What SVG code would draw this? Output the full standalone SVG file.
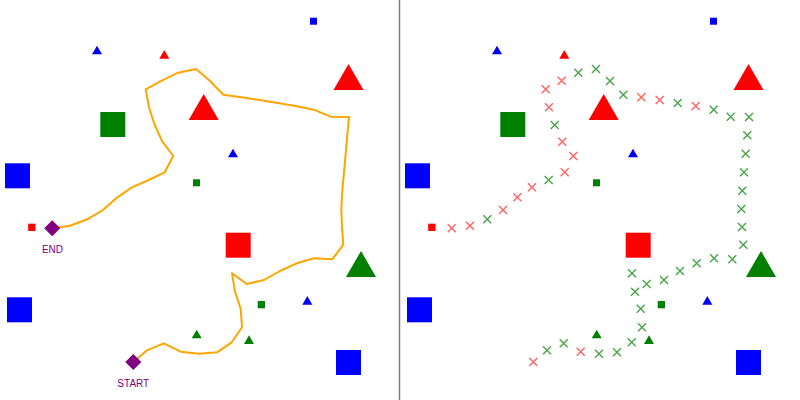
<svg xmlns="http://www.w3.org/2000/svg" xmlns:xlink="http://www.w3.org/1999/xlink" width="800" height="400" viewBox="0 0 800 400">
<style>
.b{fill:#0000ff}.r{fill:#ff0000}.g{fill:#008000}
.route{fill:none;stroke:#ffa500;stroke-width:2;stroke-linejoin:round}
.lbl{font-family:"Liberation Sans",Arial,sans-serif;font-size:10px;fill:#800080;text-anchor:middle}
.dia{fill:#800080}
.xr{stroke:#ff3333;stroke-width:1.5;stroke-opacity:0.75;fill:none}
.xg{stroke:#118811;stroke-width:1.5;stroke-opacity:0.75;fill:none}
</style>
<defs>
<path id="x" d="M-4,-4L4,4M4,-4L-4,4"/>
<g id="field">
<rect class="b" x="310" y="17.7" width="7" height="7"/>
<polygon class="b" points="97,45.7 102,54.3 92,54.3"/>
<polygon class="r" points="164.3,50 169.3,58.7 159.3,58.7"/>
<polygon class="r" points="348.5,64 363.5,90 333.5,90"/>
<rect class="g" x="100.3" y="112" width="25" height="25"/>
<polygon class="r" points="203.7,94 218.7,120 188.7,120"/>
<polygon class="b" points="233,148.7 238,157.3 228,157.3"/>
<rect class="b" x="5" y="163.3" width="25" height="25"/>
<rect class="g" x="193" y="179.3" width="7" height="7"/>
<rect class="r" x="28.2" y="223.7" width="7.3" height="7.3"/>
<rect class="r" x="225.7" y="232.7" width="25" height="25"/>
<polygon class="g" points="361,251 376,277 346,277"/>
<rect class="b" x="7" y="297.3" width="25" height="25"/>
<rect class="g" x="257.7" y="301" width="7.3" height="7.3"/>
<polygon class="b" points="307.3,296 312.3,304.7 302.3,304.7"/>
<polygon class="g" points="196.7,329.7 201.7,338.3 191.7,338.3"/>
<polygon class="g" points="249,335.3 254,344 244,344"/>
<rect class="b" x="336" y="350" width="25" height="25"/>
</g>
</defs>
<rect width="800" height="400" fill="#ffffff"/>
<g id="left-obstacles"><use xlink:href="#field" href="#field"/></g>
<g id="right-obstacles"><use xlink:href="#field" href="#field" transform="translate(400,0)"/></g>
<line id="divider" x1="399.5" y1="0" x2="399.5" y2="400" stroke="#808080" stroke-width="1.5"/>
<g id="connectors">
<polyline class="route" points="133.3,362 147,350.3 163.7,343.3 180.7,351.7 199,353.7 217,352.3 231.7,342.3 242,327.3 240.7,308.7 235,291.7 232,273.3 246.7,284 264,280 280,271 296.7,263.3 314,258.3 332.3,259.3 343.3,244.7 342,227 341.3,209 342.3,190.7 344,172.3 345.7,153.7 347.3,135.3 349,117 330.7,116.7 313.7,109.7 295.7,106 277.7,103 259.7,100 241.3,97.3 223.3,94.7 210,81 196,69 178.3,72.7 161.7,80.7 145.7,89.3 149,107.3 154.7,125 162.3,141.7 173.3,156 164.7,172.3 148.7,180 132,187.3 117.3,197.3 103,210 87.3,219.3 70,225.7 52.2,228.3"/>
</g>
<g id="start"><polygon class="dia" points="133.3,354 141.3,362 133.3,370 125.3,362"/><text class="lbl" x="133.3" y="387.3">START</text></g>
<g id="end"><polygon class="dia" points="52.2,220.3 60.2,228.3 52.2,236.3 44.2,228.3"/><text class="lbl" x="52.5" y="253">END</text></g>
<g id="samples" transform="translate(400,0)">
<use class="xr" href="#x" x="133.3" y="362"/>
<use class="xg" href="#x" x="147" y="350.3"/>
<use class="xg" href="#x" x="163.7" y="343.3"/>
<use class="xr" href="#x" x="180.7" y="351.7"/>
<use class="xg" href="#x" x="199" y="353.7"/>
<use class="xg" href="#x" x="217" y="352.3"/>
<use class="xg" href="#x" x="231.7" y="342.3"/>
<use class="xg" href="#x" x="242" y="327.3"/>
<use class="xg" href="#x" x="240.7" y="308.7"/>
<use class="xg" href="#x" x="235" y="291.7"/>
<use class="xg" href="#x" x="232" y="273.3"/>
<use class="xg" href="#x" x="246.7" y="284"/>
<use class="xg" href="#x" x="264" y="280"/>
<use class="xg" href="#x" x="280" y="271"/>
<use class="xg" href="#x" x="296.7" y="263.3"/>
<use class="xg" href="#x" x="314" y="258.3"/>
<use class="xg" href="#x" x="332.3" y="259.3"/>
<use class="xg" href="#x" x="343.3" y="244.7"/>
<use class="xg" href="#x" x="342" y="227"/>
<use class="xg" href="#x" x="341.3" y="209"/>
<use class="xg" href="#x" x="342.3" y="190.7"/>
<use class="xg" href="#x" x="344" y="172.3"/>
<use class="xg" href="#x" x="345.7" y="153.7"/>
<use class="xg" href="#x" x="347.3" y="135.3"/>
<use class="xg" href="#x" x="349" y="117"/>
<use class="xg" href="#x" x="330.7" y="116.7"/>
<use class="xg" href="#x" x="313.7" y="109.7"/>
<use class="xr" href="#x" x="295.7" y="106"/>
<use class="xg" href="#x" x="277.7" y="103"/>
<use class="xr" href="#x" x="259.7" y="100"/>
<use class="xr" href="#x" x="241.3" y="97.3"/>
<use class="xg" href="#x" x="223.3" y="94.7"/>
<use class="xg" href="#x" x="210" y="81"/>
<use class="xg" href="#x" x="196" y="69"/>
<use class="xg" href="#x" x="178.3" y="72.7"/>
<use class="xr" href="#x" x="161.7" y="80.7"/>
<use class="xr" href="#x" x="145.7" y="89.3"/>
<use class="xr" href="#x" x="149" y="107.3"/>
<use class="xg" href="#x" x="154.7" y="125"/>
<use class="xr" href="#x" x="162.3" y="141.7"/>
<use class="xr" href="#x" x="173.3" y="156"/>
<use class="xr" href="#x" x="164.7" y="172.3"/>
<use class="xg" href="#x" x="148.7" y="180"/>
<use class="xr" href="#x" x="132" y="187.3"/>
<use class="xr" href="#x" x="117.3" y="197.3"/>
<use class="xr" href="#x" x="103" y="210"/>
<use class="xg" href="#x" x="87.3" y="219.3"/>
<use class="xr" href="#x" x="70" y="225.7"/>
<use class="xr" href="#x" x="51.7" y="228.3"/>
</g>
</svg>
